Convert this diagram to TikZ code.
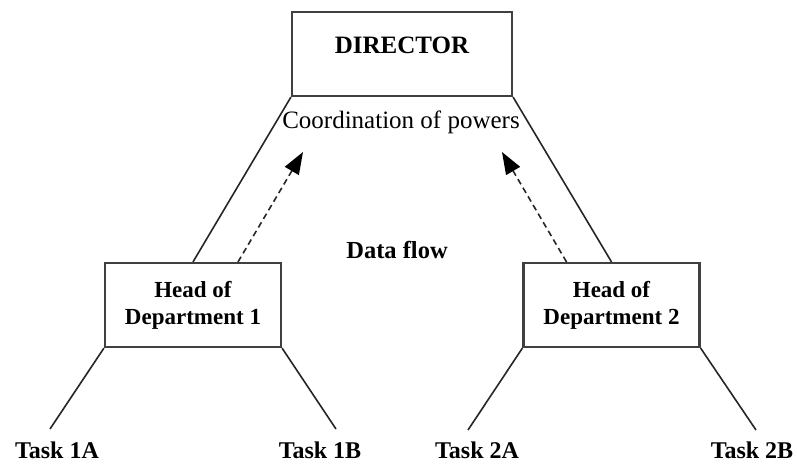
\documentclass[tikz,border=0pt]{standalone}
\usepackage{fontspec}
\setmainfont{Liberation Serif}
\usetikzlibrary{arrows.meta, positioning}

\begin{document}
\begin{tikzpicture}[
    x=0.5pt, y=-0.5pt,
    box/.style={draw=black!75, line width=1.1pt, fill=white, inner sep=2pt, align=center},
    topbox/.style={box, minimum width=110pt, minimum height=42pt, font=\fontsize{12.5}{15}\selectfont\bfseries, text depth=8.7pt},
    headbox/.style={box, minimum width=88pt, minimum height=42pt, font=\fontsize{11.5}{13.5}\selectfont\bfseries},
    link/.style={draw=black!85, line width=0.8pt},
    flow/.style={draw=black!85, line width=0.8pt, dash pattern=on 3pt off 2pt, -{Triangle[length=11pt, width=8pt, color=black]}},
    tasklabel/.style={font=\fontsize{12}{14}\selectfont\bfseries, inner sep=0pt}
]
    \useasboundingbox (0, 0) rectangle (797, 463);

    % Boxes
    \node [topbox] (director) at (402, 54) {DIRECTOR};
    \node [headbox] (head1) at (193, 305) {Head of\\Department 1};
    \node [headbox] (head2) at (611.5, 305) {Head of\\Department 2};

    % Labels
    \node [anchor=base, font=\fontsize{12.5}{15}\selectfont, inner sep=0pt] (coord) at (401, 128) {Coordination of powers};
    \node [font=\fontsize{12.25}{15}\selectfont\bfseries, inner sep=0pt] (dataflow) at (397, 250) {Data flow};

    % Tasks
    \foreach \name/\x/\txt in {task1a/57/Task 1A, task1b/320/Task 1B, task2a/477/Task 2A, task2b/752/Task 2B} {
        \node [tasklabel] (\name) at (\x, 450) {\txt};
    }

    % Line ends
    \coordinate (end1a) at (50, 429);
    \coordinate (end1b) at (336, 429);
    \coordinate (end2a) at (468, 430);
    \coordinate (end2b) at (756, 430);
    \coordinate (tip1) at (303, 152);
    \coordinate (tip2) at (502, 152);

    % Director to heads
    \draw [link] (director.south west) -- (head1.north);
    \draw [link] (director.south east) -- (head2.north);

    % Heads to tasks
    \draw [link] (head1.south west) -- (end1a);
    \draw [link] (head1.south east) -- (end1b);
    \draw [link] (head2.south west) -- (end2a);
    \draw [link] (head2.south east) -- (end2b);

    % Data flow arrows
    \draw [flow] ([xshift=22.5pt]head1.north) -- (tip1);
    \draw [flow] ([xshift=-22.5pt]head2.north) -- (tip2);

\end{tikzpicture}
\end{document}
